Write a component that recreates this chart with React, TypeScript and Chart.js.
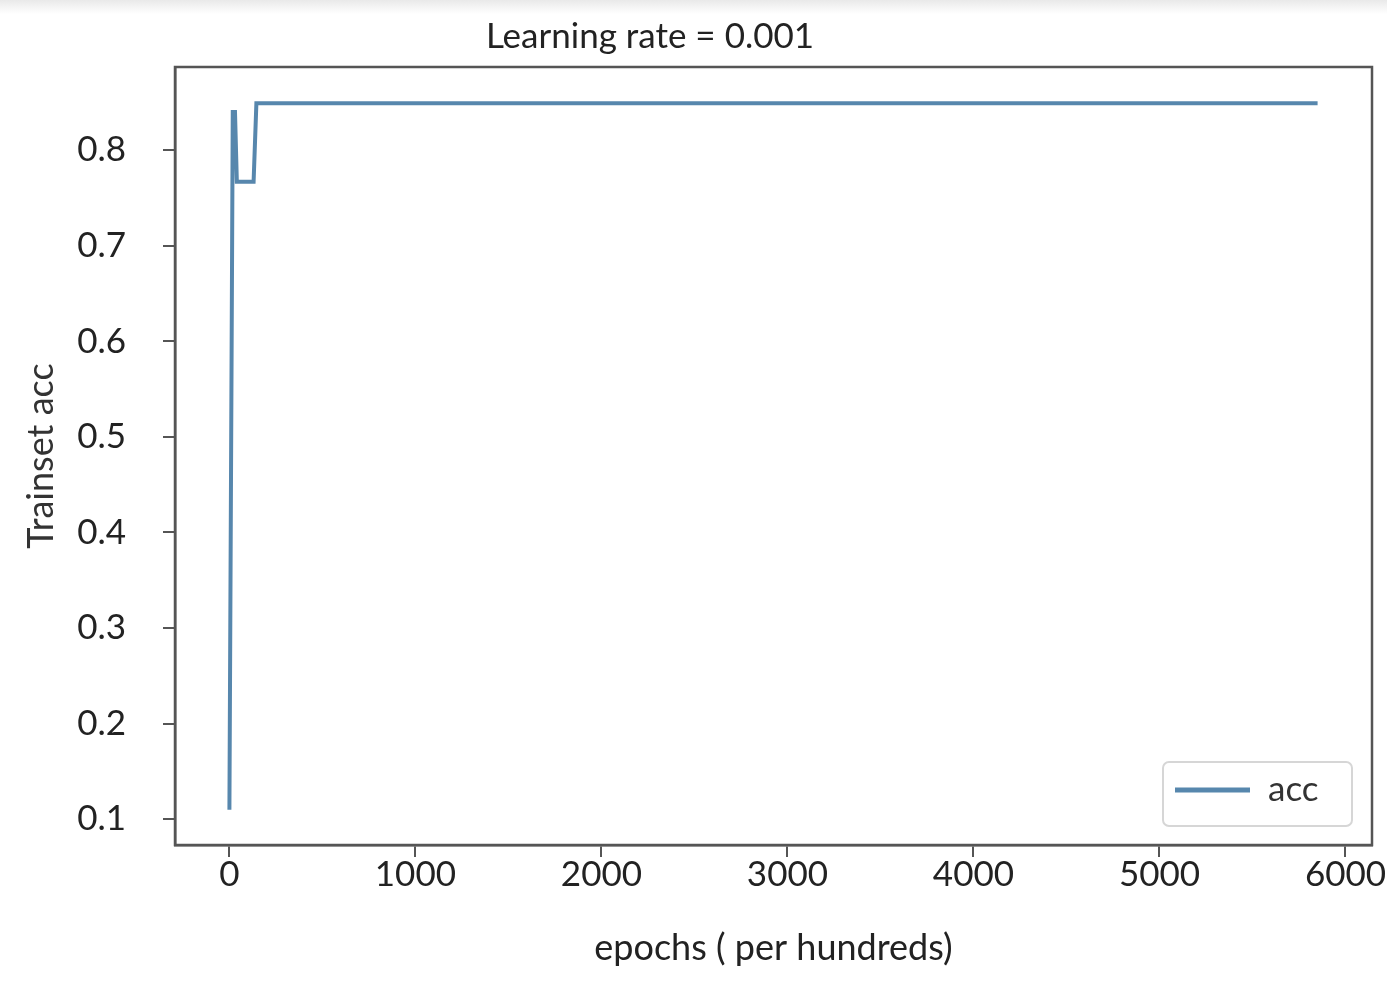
import React, { useEffect, useRef } from "react";
import { Chart, registerables } from "chart.js";

Chart.register(...registerables);

const epochs = [0, 18, 30, 40, 130, 145, 5850];
const acc = [0.11, 0.84, 0.84, 0.767, 0.767, 0.849, 0.849];
const xTicks = [0, 1000, 2000, 3000, 4000, 5000, 6000];
const yTicks = [0.1, 0.2, 0.3, 0.4, 0.5, 0.6, 0.7, 0.8];
const seriesLabel = "acc";
const chartTitle = "Learning rate = 0.001";
const xTitle = "epochs ( per hundreds)";
const yTitle = "Trainset acc";

const FONT = "Lato, 'Open Sans', sans-serif";
const LINE = "#5787ad";
const FRAME = "#555555";

const framePlugin = {
  id: "frameAndExtras",
  afterDraw(chart: any) {
    const { ctx, chartArea } = chart;
    const { left, right, top, bottom } = chartArea;
    ctx.save();
    ctx.strokeStyle = FRAME;
    ctx.lineWidth = 2.5;
    ctx.strokeRect(left, top, right - left, bottom - top);
    ctx.fillStyle = "#222";
    ctx.font = `35px ${FONT}`;
    ctx.textAlign = "center";
    ctx.textBaseline = "middle";
    ctx.fillText(chartTitle, 650, 37);
    const ds = chart.data.datasets[0];
    const bw = 189, bh = 64;
    const bx = right - 20 - bw;
    const by = bottom - 19 - bh;
    ctx.beginPath();
    ctx.roundRect(bx, by, bw, bh, 6);
    ctx.fillStyle = "rgba(255,255,255,0.9)";
    ctx.fill();
    ctx.strokeStyle = "#d6d6d6";
    ctx.lineWidth = 2;
    ctx.stroke();
    ctx.beginPath();
    ctx.moveTo(bx + 12, by + 28);
    ctx.lineTo(bx + 87, by + 28);
    ctx.strokeStyle = ds.borderColor;
    ctx.lineWidth = 5;
    ctx.stroke();
    ctx.fillStyle = "#333";
    ctx.font = `35px ${FONT}`;
    ctx.textAlign = "left";
    ctx.textBaseline = "middle";
    ctx.fillText(ds.label, bx + 105, by + 28);
    ctx.restore();
  },
};

export default function App() {
  const ref = useRef<HTMLCanvasElement>(null);
  useEffect(() => {
    document.body.style.margin = "0";
    const chart = new Chart(ref.current!, {
      type: "line",
      data: {
        datasets: [
          {
            label: seriesLabel,
            data: epochs.map((x, i) => ({ x, y: acc[i] })),
            borderColor: LINE,
            borderWidth: 4,
            pointRadius: 0,
            tension: 0,
            fill: false,
          },
        ],
      },
      options: {
        animation: false,
        responsive: false,
        maintainAspectRatio: false,
        layout: { padding: { top: 67, right: 15, left: 0, bottom: 0 } },
        plugins: { legend: { display: false }, title: { display: false }, tooltip: { enabled: false } },
        scales: {
          x: {
            type: "linear",
            min: -292.5,
            max: 6142.5,
            afterBuildTicks: (s: any) => {
              s.ticks = xTicks.map((v) => ({ value: v }));
            },
            afterFit: (s: any) => {
              s.height = 146;
            },
            grid: { display: true, drawOnChartArea: false, drawTicks: true, tickLength: 12, color: FRAME, lineWidth: 2 },
            border: { display: true, color: FRAME, width: 2.5 },
            ticks: {
              padding: 0,
              maxRotation: 0,
              autoSkip: false,
              color: "#222",
              font: { family: FONT, size: 35, lineHeight: 1.0 },
              callback: (v: any) => String(v),
            },
            title: {
              display: true,
              text: xTitle,
              color: "#222",
              font: { family: FONT, size: 36, lineHeight: 1.2 },
              padding: { top: 0, bottom: 21 },
            },
          },
          y: {
            type: "linear",
            min: 0.073,
            max: 0.887,
            afterBuildTicks: (s: any) => {
              s.ticks = yTicks.map((v) => ({ value: v }));
            },
            afterFit: (s: any) => {
              s.width = 175;
            },
            grid: { display: true, drawOnChartArea: false, drawTicks: true, tickLength: 12, color: FRAME, lineWidth: 2 },
            border: { display: true, color: FRAME, width: 2.5 },
            ticks: {
              padding: 37,
              autoSkip: false,
              color: "#222",
              font: { family: FONT, size: 35 },
              callback: (v: any) => Number(v).toFixed(1),
            },
            title: {
              display: true,
              text: yTitle,
              color: "#333",
              font: { family: FONT, size: 36, lineHeight: 1.2 },
              padding: { top: 20, bottom: 0 },
            },
          },
        },
      },
      plugins: [framePlugin],
    });
    return () => chart.destroy();
  }, []);
  return (
    <div
      style={{
        position: "fixed",
        left: 0,
        top: 0,
        width: 1387,
        height: 991,
        background: "linear-gradient(#e9e9e9 0px, #ffffff 14px)",
      }}
    >
      <canvas ref={ref} width={1387} height={991} style={{ display: "block" }} />
    </div>
  );
}
